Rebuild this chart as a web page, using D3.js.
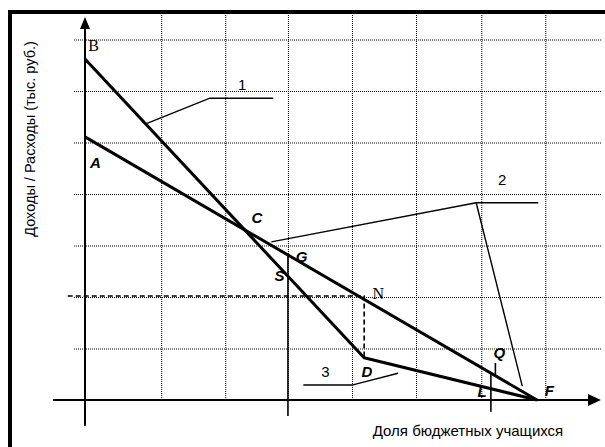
<!DOCTYPE html>
<html>
<head>
<meta charset="utf-8">
<script src="https://cdn.jsdelivr.net/npm/d3@7"></script>
<style>
  body { margin: 0; background: #fff; }
  svg { display: block; }
</style>
</head>
<body>
<div id="chart"></div>
<script>
// grid positions (in chart units)
const gridX = [1.19, 2.19, 3.17, 4.17, 5.17, 6.19, 7.19]
const gridY = [1, 2, 3, 4, 5, 6, 7]

// line 1: B -> D -> F
const lineBDF = [[0, 6.62], [4.36, 0.82], [7.06, 0]]
// line A -> F
const lineAF = [[0, 5.11], [7.06, 0]]

// helper segments
const dashedN = [[-0.27, 2.02], [4.36, 2.02], [4.36, 0.82]]
const vertS = [[3.17, 2.82], [3.17, -0.31]]
const vertL = [[6.34, 0.53], [6.34, -0.23]]
const tickQ = [[6.41, 0.72], [6.41, 0.45]]

// leader lines for the numbered labels
const leader1 = [[0.95, 5.36], [1.95, 5.86], [2.94, 5.86]]
const leader2a = [[2.91, 3.07], [6.11, 3.83], [7.08, 3.83]]
const leader2b = [[6.11, 3.83], [6.83, 0.27]]
const leader3 = [[3.41, 0.29], [4.17, 0.29], [4.89, 0.52]]

// point labels: [text, x, y, style]
const pointLabels = [
  ["B", 0.05, 6.77, "serif"],
  ["A", 0.08, 4.5, "bi"],
  ["C", 2.6, 3.43, "bi"],
  ["G", 3.29, 2.67, "bi"],
  ["S", 2.96, 2.31, "bi"],
  ["N", 4.49, 1.96, "serif"],
  ["D", 4.32, 0.45, "bi"],
  ["L", 6.13, 0.06, "bi"],
  ["Q", 6.38, 0.82, "bi"],
  ["F", 7.18, 0.08, "bi"],
  ["1", 2.39, 6.02, "num"],
  ["2", 6.45, 4.17, "num"],
  ["3", 3.69, 0.45, "num"]
]

const W = 605, H = 447

const x = d3.scaleLinear().domain([0, 7.06]).range([85, 537])
const y = d3.scaleLinear().domain([0, 7]).range([400, 39.5])

const svg = d3.select("#chart").append("svg")
  .attr("width", W)
  .attr("height", H)
  .attr("font-family", "Liberation Sans, Arial, sans-serif")

const line = d3.line().x(d => x(d[0])).y(d => y(d[1]))

// dotted grid
svg.append("g")
  .attr("transform", `translate(0,${y(0)})`)
  .call(d3.axisBottom(x).tickValues(gridX).tickSize(-(y(0) - 13)).tickFormat(""))
  .call(g => g.select(".domain").remove())
  .call(g => g.selectAll("line").attr("stroke", "#000").attr("stroke-dasharray", "1,1"))

svg.append("g")
  .attr("transform", "translate(601,0)")
  .call(d3.axisLeft(y).tickValues(gridY).tickSize(601 - 73).tickFormat(""))
  .call(g => g.select(".domain").remove())
  .call(g => g.selectAll("line").attr("stroke", "#000").attr("stroke-dasharray", "1,1"))

// frame (top and left)
svg.append("rect").attr("x", 8).attr("y", 10).attr("width", W - 8).attr("height", 4).attr("fill", "#000")
svg.append("rect").attr("x", 8).attr("y", 10).attr("width", 4).attr("height", H - 10).attr("fill", "#000")

// dashed guide to N and down to D
svg.append("path").attr("d", line(dashedN))
  .attr("fill", "none").attr("stroke", "#000").attr("stroke-width", 1.6).attr("stroke-dasharray", "5,3")

// axes
svg.append("line")
  .attr("x1", x(0)).attr("x2", x(0)).attr("y1", y(-0.5)).attr("y2", 27)
  .attr("stroke", "#000").attr("stroke-width", 2)
svg.append("path").attr("d", `M${x(0)},17 L${x(0) - 5},29 L${x(0) + 5},29 Z`).attr("fill", "#000")

svg.append("line")
  .attr("x1", 53).attr("x2", 592).attr("y1", y(0)).attr("y2", y(0))
  .attr("stroke", "#000").attr("stroke-width", 2)
svg.append("path").attr("d", `M601,${y(0)} L588,${y(0) - 6} L588,${y(0) + 6} Z`).attr("fill", "#000")

// thin verticals
;[vertS, vertL, tickQ].forEach(seg => {
  svg.append("path").attr("d", line(seg))
    .attr("fill", "none").attr("stroke", "#000").attr("stroke-width", 1.6)
})

// main lines
;[lineBDF, lineAF].forEach(pts => {
  svg.append("path").attr("d", line(pts))
    .attr("fill", "none").attr("stroke", "#000").attr("stroke-width", 3)
    .attr("stroke-linejoin", "round")
})

// leaders
;[leader1, leader2a, leader2b, leader3].forEach(pts => {
  svg.append("path").attr("d", line(pts))
    .attr("fill", "none").attr("stroke", "#000").attr("stroke-width", 1.4)
})

// labels
svg.selectAll("text.pt")
  .data(pointLabels)
  .join("text")
  .attr("class", "pt")
  .attr("x", d => x(d[1]))
  .attr("y", d => y(d[2]))
  .attr("font-family", d => d[3] == "serif" ? "Liberation Serif, Times New Roman, serif" : null)
  .attr("font-size", d => d[3] == "serif" ? 16 : 15)
  .attr("font-weight", d => d[3] == "bi" ? "bold" : null)
  .attr("font-style", d => d[3] == "bi" ? "italic" : null)
  .text(d => d[0])

// axis titles
svg.append("text")
  .attr("x", 468).attr("y", 436)
  .attr("text-anchor", "middle")
  .attr("font-size", 15)
  .text("Доля бюджетных учащихся")

svg.append("text")
  .attr("transform", "translate(35,139) rotate(-90)")
  .attr("text-anchor", "middle")
  .attr("font-size", 14.5)
  .text("Доходы / Расходы (тыс. руб.)")
</script>
</body>
</html>
